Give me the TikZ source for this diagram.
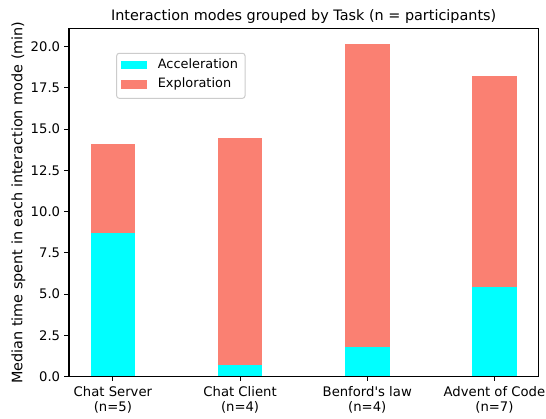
\documentclass[tikz,border=0pt]{standalone}
\usepackage{fontspec}
\setmainfont{DejaVu Sans}[Ligatures=TeXOff]
\definecolor{accel}{HTML}{00FFFF}
\definecolor{explo}{HTML}{FA8072}
\definecolor{legedge}{HTML}{CCCCCC}
\begin{document}
\begin{tikzpicture}[x=1pt,y=1pt,
  ticklabel/.style={font=\fontsize{13.2}{15}\selectfont, inner sep=0pt},
  axlabel/.style={font=\fontsize{14.4}{17}\selectfont, inner sep=0pt},
  legtext/.style={font=\fontsize{12.9}{15}\selectfont, inner sep=0pt, anchor=base west},
  spine/.style={line width=1.1pt, black},
  tickmark/.style={line width=1.1pt, black},
  ]
\useasboundingbox (0,0) rectangle (546,419);
\fill[white] (0,0) rectangle (546,419);

% stacked bars, ticks and tick labels in data coordinates
\begin{scope}[shift={(112.9,42.3)}, x=127.17pt, y=16.5pt]
  \foreach \i/\a/\t in {0/8.7/14.1, 1/0.72/14.45, 2/1.8/20.15, 3/5.45/18.2} {
    \fill[accel] (\i-0.175,0) rectangle (\i+0.175,\a);
    \fill[explo] (\i-0.175,\a) rectangle (\i+0.175,\t);
  }
  \foreach \v/\lab [count=\k] in {0/0.0, 2.5/2.5, 5/5.0, 7.5/7.5, 10/10.0, 12.5/12.5, 15/15.0, 17.5/17.5, 20/20.0} {
    \draw[tickmark] (-0.345,\v) -- ++(-4.8pt,0);
    \node[ticklabel, anchor=east] (ytick\k) at ([xshift=-8.7pt]-0.345,\v) {\lab};
  }
  \foreach \i/\lab in {0/{Chat Server\\(n=5)}, 1/{Chat Client\\(n=4)}, 2/{Benford's law\\(n=4)}, 3/{Advent of Code\\(n=7)}} {
    \draw[tickmark] (\i,0) -- ++(0,-4.8pt);
    \node[ticklabel, anchor=north, align=center] (xtick\i) at ([yshift=-10pt]\i,0) {\lab};
  }
\end{scope}

% axes frame
\draw[spine] (69,42.3) rectangle (538.3,390.7);

% legend
\draw[legedge, fill=white, fill opacity=0.8, rounded corners=2.5pt, line width=1pt]
  (116.7,320.7) rectangle (245,365.7);
\fill[accel] (120.7,350) rectangle (147.3,358.3);
\fill[explo] (120.7,329.7) rectangle (147.3,339);
\node[legtext] (legA) at (157.6,350.5) {Acceleration};
\node[legtext] (legE) at (157.6,331.3) {Exploration};

% title and axis label
\node[axlabel, anchor=base] (title) at (303.7,398.3) {Interaction modes grouped by Task (n = participants)};
\node[axlabel, anchor=base, rotate=90] (ylab) at (22.3,216.3) {Median time spent in each interaction mode (min)};
\end{tikzpicture}
\end{document}
